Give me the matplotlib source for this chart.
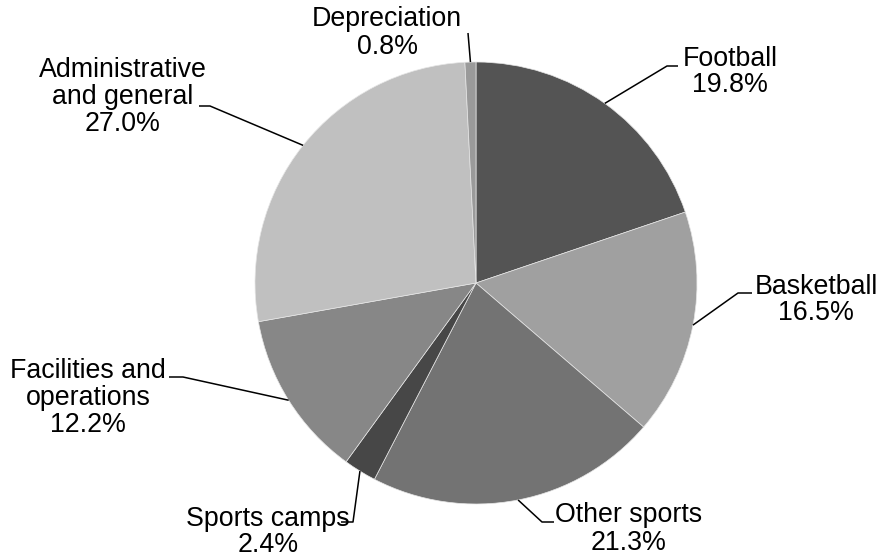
import matplotlib
matplotlib.use("Agg")
import matplotlib.pyplot as plt
import numpy as np

#-data---------------------------------------------
categories = ["Football", "Basketball", "Other sports", "Sports camps",
              "Facilities and\noperations", "Administrative\nand general",
              "Depreciation"]
shares = [19.8, 16.5, 21.3, 2.4, 12.2, 27.0, 0.8]
colors = ["#545454", "#a0a0a0", "#737373", "#474747", "#878787", "#c0c0c0", "#9a9a9a"]
#--------------------------------------------------

W, H = 880, 558
cx, cy, R = 476, 283, 221

# label block centres and leader elbows, in image pixels (y down)
label_pos = [(730, 72), (816, 300), (629, 529), (268, 532), (88, 398), (123, 97), (387, 33)]
elbows = [
    [(667, 66), (678, 66)],
    [(738, 293), (752, 293)],
    [(542, 522), (554, 522)],
    [(353, 522), (341, 522)],
    [(183, 377), (169, 377)],
    [(210, 106), (199, 106)],
    [(468, 33)],
]

plt.rcParams["font.family"] = ["Liberation Sans", "DejaVu Sans"]

fig = plt.figure(figsize=(W / 100, H / 100), dpi=100)
ax = fig.add_axes([0, 0, 1, 1])

wedges, _ = ax.pie(shares, colors=colors, startangle=90, counterclock=False,
                   center=(cx, H - cy), radius=R,
                   wedgeprops=dict(edgecolor="#e6e6e6", linewidth=0.5))
ax.set_xlim(0, W)
ax.set_ylim(0, H)
ax.set_aspect("equal")
ax.axis("off")

for w, name, val, (tx, ty), elb in zip(wedges, categories, shares, label_pos, elbows):
    mid = np.deg2rad((w.theta1 + w.theta2) / 2)
    sx = cx + R * np.cos(mid)
    sy = H - cy + R * np.sin(mid)
    xs = [sx] + [p[0] for p in elb]
    ys = [sy] + [H - p[1] for p in elb]
    ax.plot(xs, ys, color="black", lw=1.1, solid_capstyle="butt")
    ax.text(tx, H - ty, f"{name}\n{val:.1f}%", ha="center", va="center",
            fontsize=19.3, linespacing=1.05, color="black")

fig.savefig("out.png", dpi=100)
